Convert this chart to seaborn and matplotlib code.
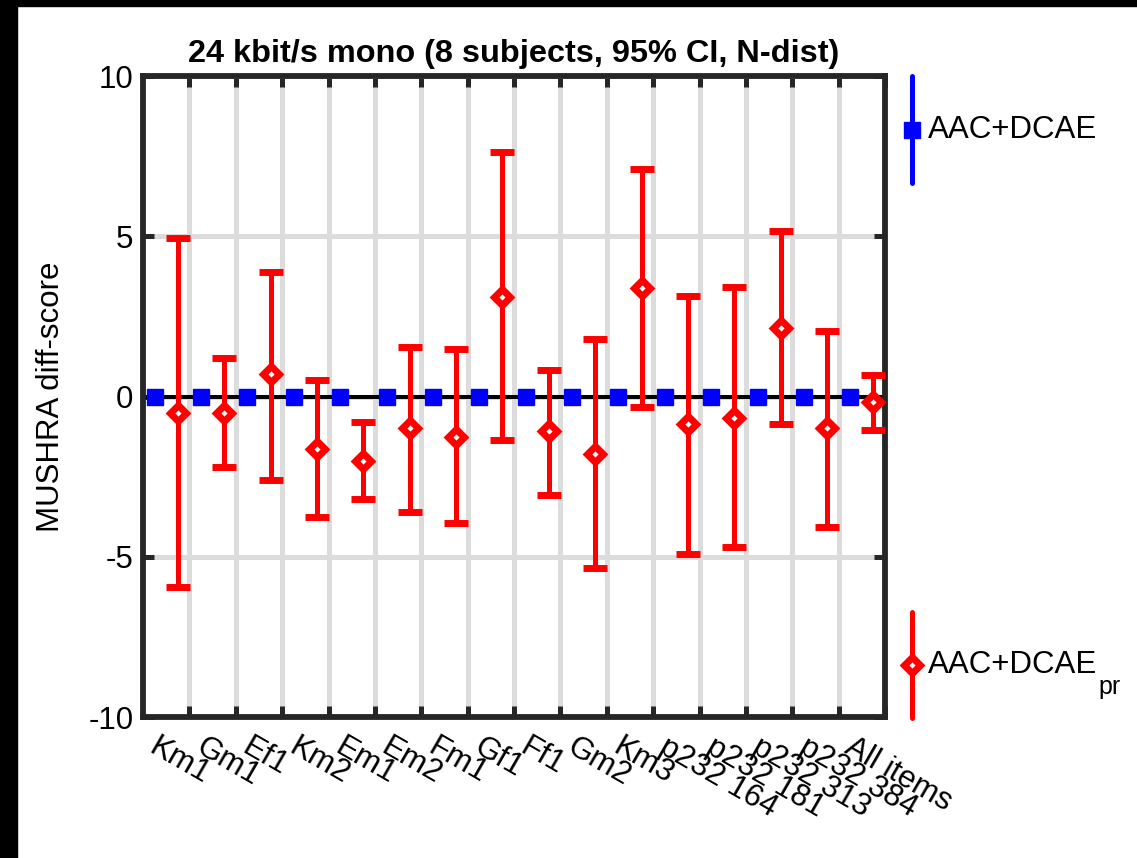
import numpy as np
import pandas as pd
import seaborn as sns
import matplotlib as mpl
from matplotlib import pyplot as plt

# data
items = ["Km1", "Gm1", "Ef1", "Km2", "Em1", "Em2", "Fm1", "Gf1", "Ff1", "Gm2",
         "Km3", "p232 164", "p232 181", "p232 313", "p232 384", "All items"]
ref_mean = [0.0] * 16
pr_mean = [-0.50, -0.50, 0.69, -1.65, -2.00, -0.97, -1.25, 3.12, -1.09, -1.78,
           3.40, -0.87, -0.66, 2.15, -0.97, -0.16]
pr_upper = [4.95, 1.20, 3.90, 0.53, -0.78, 1.56, 1.47, 7.64, 0.84, 1.81,
            7.11, 3.15, 3.43, 5.15, 2.03, 0.66]
pr_lower = [-5.93, -2.20, -2.60, -3.75, -3.20, -3.60, -3.96, -1.37, -3.06, -5.34,
            -0.34, -4.90, -4.71, -0.87, -4.06, -1.03]
yticks = [-10, -5, 0, 5, 10]

sns.set_theme(style="white")
plt.rcParams['font.family'] = ['Liberation Sans', 'DejaVu Sans']

df = pd.DataFrame({"item": items, "ref": ref_mean, "pr": pr_mean,
                   "hi": pr_upper, "lo": pr_lower})
df["pos"] = np.arange(1, len(items) + 1)

fig = plt.figure(figsize=(11.37, 8.58), dpi=100)
ax = fig.add_axes([0.1258, 0.1643, 0.6526, 0.7471])

dark = '#262626'
lw = 3.6
fs = 22.5

# zero reference line
ax.axhline(0, color='black', lw=2.9, zorder=2)

# reference codec (all zero)
ax.errorbar(df.pos - 0.75, df.ref, yerr=0, fmt='s', color='blue', ms=12,
            mfc='blue', mec='blue', mew=1.0, elinewidth=lw, capsize=0, zorder=4,
            clip_on=False)

# tested codec with CI
yerr = [df.pr - df.lo, df.hi - df.pr]
ax.errorbar(df.pos - 0.25, df.pr, yerr=yerr, fmt='D', color='red', ms=8.5,
            mfc='white', mec='red', mew=5.0, elinewidth=lw, capsize=8.5,
            capthick=lw, zorder=5, clip_on=False)

ax.set_xlim(0, 16)
ax.set_ylim(-10, 10)
# tick marks / grid at item boundaries, labels shifted left as in the original
ax.set_xticks(df.pos)
ax.set_xticklabels([])
ax.set_xticks(df.pos - 0.65, minor=True)
ax.set_xticklabels(items, minor=True, rotation=-30, ha='left', va='top',
                   rotation_mode='anchor', fontsize=fs, color='black')
ax.set_yticks(yticks)
ax.set_yticklabels([str(v) for v in yticks], fontsize=fs, color='black')

ax.tick_params(axis='both', which='major', direction='in', length=8, width=lw,
               color=dark, top=True, right=True, bottom=True, left=True)
ax.tick_params(axis='x', which='minor', length=0, pad=11)
ax.tick_params(axis='y', pad=7)
ax.grid(True, which='major', color='#dcdcdc', lw=lw, zorder=0)
ax.set_axisbelow(True)
for s in ax.spines.values():
    s.set_color(dark)
    s.set_linewidth(4.2)

ax.set_ylabel('MUSHRA diff-score', fontsize=fs, labelpad=16, color='black')
ax.set_title('24 kbit/s mono (8 subjects, 95% CI, N-dist)', fontsize=23.4,
             fontweight='bold', pad=10, color='black')

# legend outside the axes, drawn as in the original
lx, tx = 1.0364, 1.058
ax.plot([lx, lx], [0.833, 1.0], color='blue', lw=lw,
        transform=ax.transAxes, clip_on=False)
ax.plot([lx], [0.916], 's', color='blue', ms=12, transform=ax.transAxes,
        clip_on=False)
ax.text(tx, 0.916, 'AAC+DCAE', fontsize=fs, va='center', ha='left',
        color='black', transform=ax.transAxes)
ax.plot([lx, lx], [-0.002, 0.164], color='red', lw=lw,
        transform=ax.transAxes, clip_on=False)
ax.plot([lx], [0.081], 'D', color='red', ms=8.5, mfc='white', mew=5.0,
        transform=ax.transAxes, clip_on=False)
t = ax.text(tx, 0.081, 'AAC+DCAE', fontsize=fs, va='center', ha='left',
            color='black', transform=ax.transAxes)
ax.annotate('pr', xy=(1, 0), xycoords=t, xytext=(1, -10),
            textcoords='offset points', fontsize=18, va='baseline', ha='left',
            color='black')

# black frame strips at the image edges
fig.patches.append(mpl.patches.Rectangle((0, 0), 17 / 1137, 1, color='black',
                                         transform=fig.transFigure, zorder=10))
fig.patches.append(mpl.patches.Rectangle((0, 1 - 6 / 858), 1, 6 / 858,
                                         color='black',
                                         transform=fig.transFigure, zorder=10))

fig.savefig('out.png', dpi=100, facecolor='white')
